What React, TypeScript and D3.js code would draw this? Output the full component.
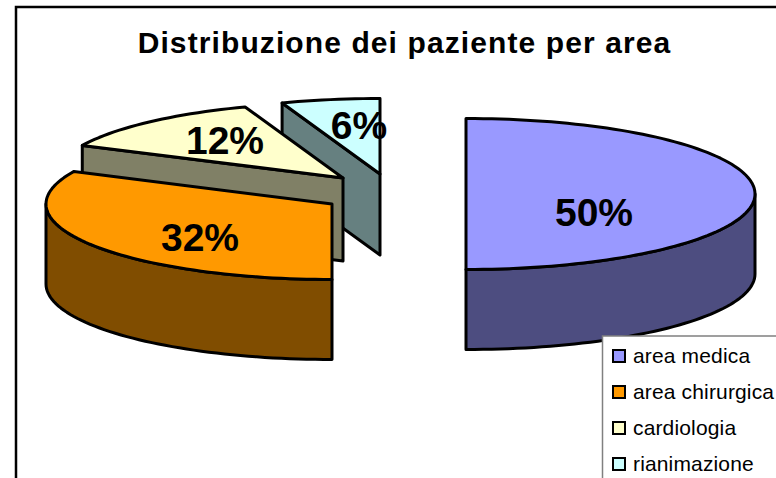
import React from "react";
import * as d3 from "d3";

const categories = ["area medica", "area chirurgica", "cardiologia", "rianimazione"];
const shares = [0.5, 0.321, 0.124, 0.055];
const topColors = ["#9999FF", "#FF9900", "#FFFFCC", "#CCFFFF"];
const sideColors = ["#4D4D80", "#804D00", "#808066", "#668080"];
const title = "Distribuzione dei paziente per area";

// exploded slice centres and label anchors on the page
const centres = [[466, 194], [332, 204], [343, 178], [380, 174]];
const labelAt = [[594, 212], [200, 237], [225, 140], [359, 125]];
const radii = [289, 286, 289, 289];
const depths = [80, 80, 83, 81];
const ry = 75.5;
const FONT = "'Liberation Sans', Arial, sans-serif";

export default function App() {
  const arcs = d3.pie<number>().sort(null).value((d) => d)(shares);
  const fmt = d3.format(".0%");
  const line = d3.line();
  const pt = (i: number, a: number, dz = 0): [number, number] => [
    centres[i][0] + radii[i] * Math.sin(a),
    centres[i][1] - ry * Math.cos(a) + dz,
  ];
  const samples = (a0: number, a1: number) => {
    const n = Math.max(2, Math.ceil((a1 - a0) / 0.03));
    return d3.range(n + 1).map((k) => a0 + ((a1 - a0) * k) / n);
  };
  const topPath = (i: number) => {
    const { startAngle: s, endAngle: e } = arcs[i];
    return line([centres[i] as [number, number], ...samples(s, e).map((a) => pt(i, a))]) + "Z";
  };
  // outer rim: only the part of the arc facing the viewer (pi/2..3pi/2)
  const rimPath = (i: number) => {
    const s = Math.max(arcs[i].startAngle, Math.PI / 2);
    const e = Math.min(arcs[i].endAngle, (3 * Math.PI) / 2);
    if (e <= s) return null;
    const as = samples(s, e);
    return line([...as.map((a) => pt(i, a)), ...as.reverse().map((a) => pt(i, a, depths[i]))]) + "Z";
  };
  // radial wall seen when the slice's starting edge faces the viewer
  const wallPath = (i: number) => {
    const a = arcs[i].startAngle;
    const c = centres[i];
    return line([
      [c[0], c[1]],
      pt(i, a),
      pt(i, a, depths[i]),
      [c[0], c[1] + depths[i]],
    ]) + "Z";
  };
  const order = [3, 2, 1, 0];
  const legendY = [356, 392, 428, 464];

  return (
    <svg
      width={776}
      height={478}
      style={{ position: "absolute", left: 0, top: 0, background: "#fff" }}
      fontFamily={FONT}
    >
      <path d="M16,478V7H776" fill="none" stroke="#000" strokeWidth={2.5} />
      <text x={404.5} y={53} textAnchor="middle" fontSize={30} fontWeight="bold" letterSpacing={1.1}>
        {title}
      </text>
      {order.map((i) => (
        <g key={i} stroke="#000" strokeWidth={3} strokeLinejoin="round">
          {i >= 2 && <path d={wallPath(i)} fill={sideColors[i]} />}
          {rimPath(i) && <path d={rimPath(i)!} fill={sideColors[i]} />}
          <path d={topPath(i)} fill={topColors[i]} />
        </g>
      ))}
      {order.map((i) => (
        <text
          key={i}
          x={labelAt[i][0]}
          y={labelAt[i][1]}
          dy="0.36em"
          textAnchor="middle"
          fontSize={39}
          fontWeight="bold"
        >
          {fmt(shares[i])}
        </text>
      ))}
      <rect x={602.5} y={336} width={200} height={170} fill="#fff" stroke="#808080" strokeWidth={1.5} />
      {categories.map((c, i) => (
        <g key={c}>
          <rect x={613} y={legendY[i] - 6} width={12} height={12} fill={topColors[i]} stroke="#000" strokeWidth={2} />
          <text x={633} y={legendY[i] + 7} fontSize={21} letterSpacing={0.15}>
            {c}
          </text>
        </g>
      ))}
    </svg>
  );
}
